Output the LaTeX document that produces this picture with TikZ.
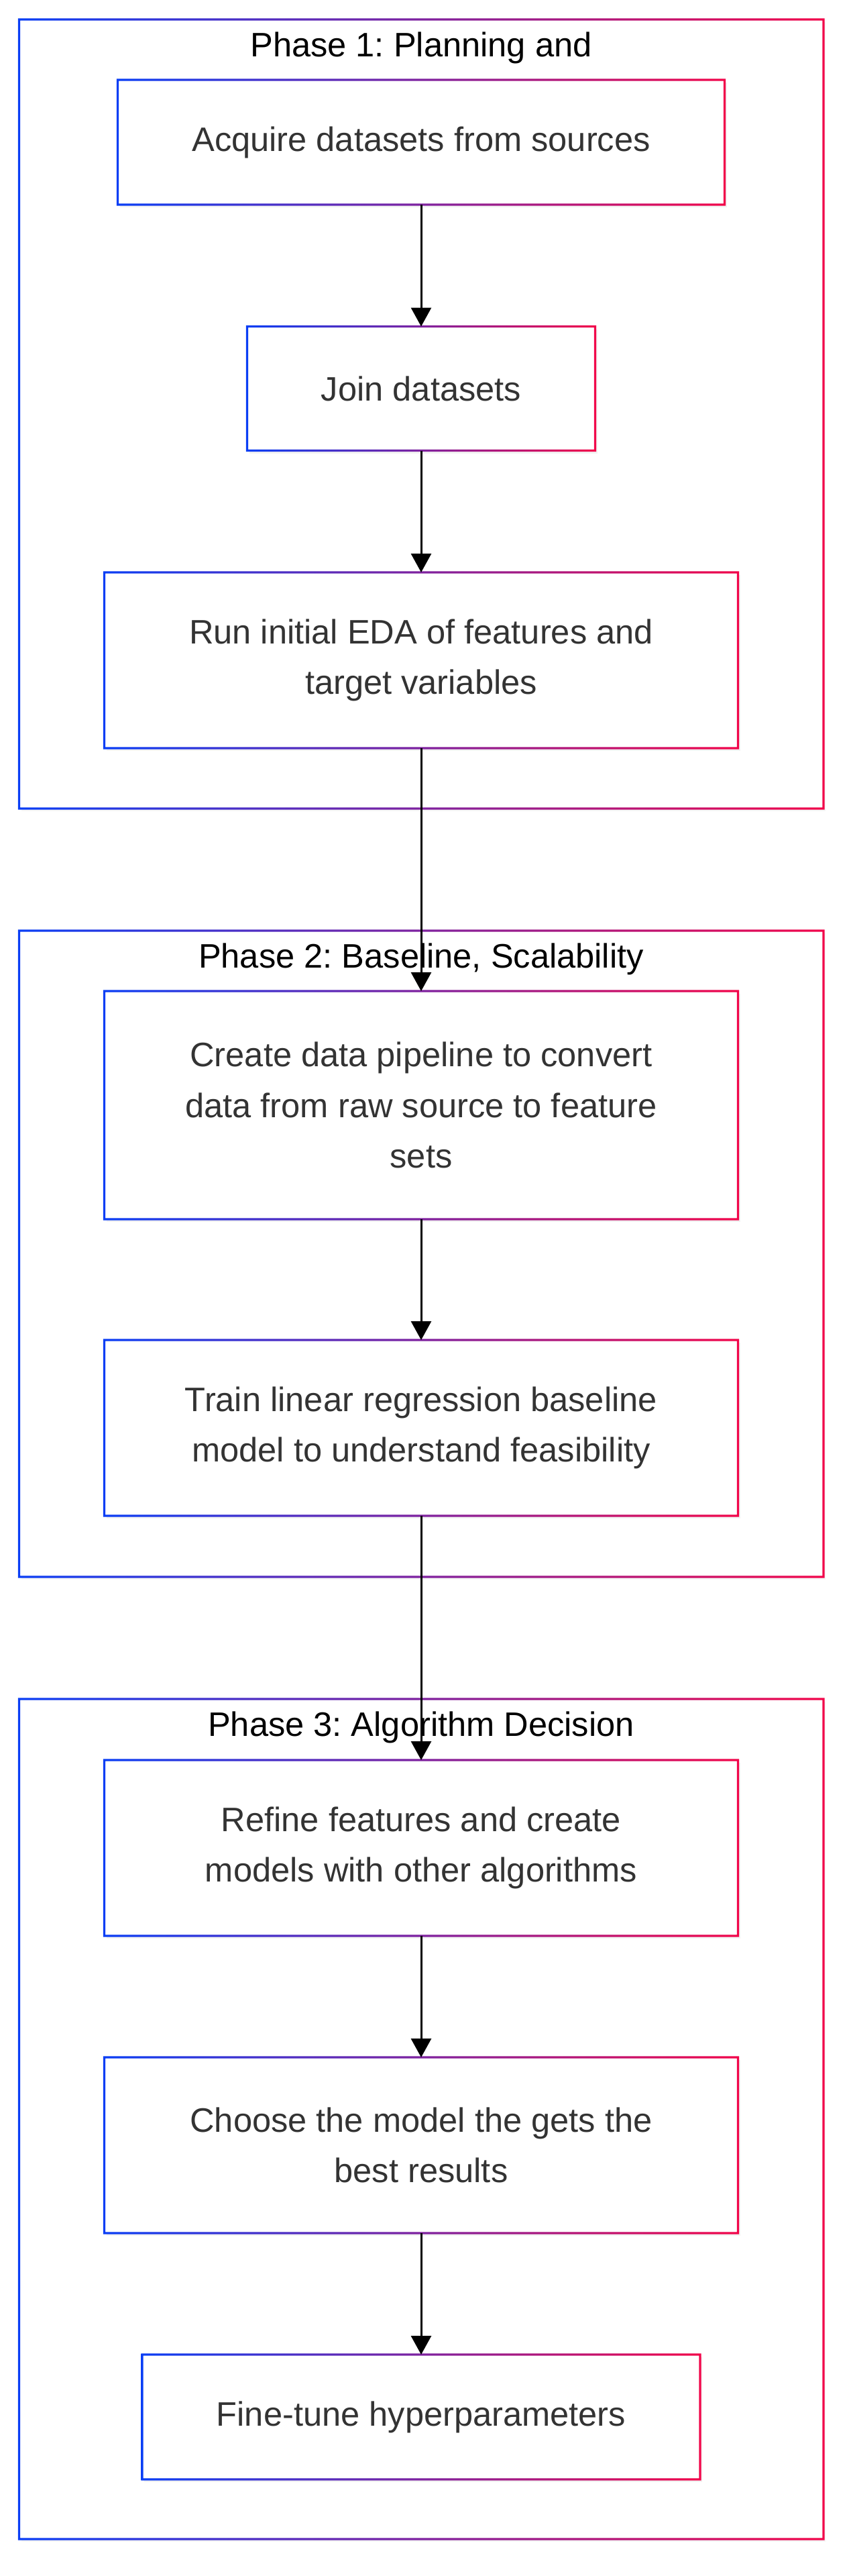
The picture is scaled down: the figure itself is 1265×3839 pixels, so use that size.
\documentclass[tikz,border=0pt]{standalone}
\usepackage{fontspec}
\setmainfont{Liberation Sans}
\usetikzlibrary{arrows.meta,shadows}
\definecolor{mblue}{RGB}{10,62,245}
\definecolor{mred}{RGB}{242,6,74}
\definecolor{mtext}{HTML}{333333}
\frenchspacing

\begin{document}
\begin{tikzpicture}[x=0.5pt, y=-0.5pt,
    fase/.style={rectangle, fill=white, outer sep=0pt, inner sep=0pt, minimum width=599.75pt,
      drop shadow={shadow xshift=1.5pt, shadow yshift=-2pt, opacity=0.08}},
    titulo/.style={anchor=base, text=black, font=\fontsize{25.3pt}{30pt}\selectfont},
    etapa/.style={rectangle, fill=white, outer sep=0pt, inner sep=0pt, align=center, text=mtext,
      font=\fontsize{25.3pt}{37.75pt}\selectfont, minimum width=472.5pt, minimum height=131pt,
      drop shadow={shadow xshift=1.5pt, shadow yshift=-2pt, opacity=0.1}},
    seta/.style={-{Triangle[width=15pt, length=14pt]}, line width=1.5pt, black}]
        \useasboundingbox (0,0) rectangle (1265,3839);

        % Fases
        \node[fase, minimum height=588pt] (F1) at (628.25,617) {};
        \node[fase, minimum height=481.5pt] (F2) at (628.25,1868.5) {};
        \node[fase, minimum height=626pt] (F3) at (628.25,3158) {};
        \node[titulo] (t1) at (628,84) {Phase 1: Planning and};
        \node[titulo] (t2) at (628,1442) {Phase 2: Baseline, Scalability};
        \node[titulo] (t3) at (628,2587) {Phase 3: Algorithm Decision};

        % Etapas da fase 1
        \node[etapa, minimum width=452.5pt, minimum height=93pt] (acq) at (628,212) {Acquire datasets from sources};
        \node[etapa, minimum width=259.5pt, minimum height=92.5pt] (join) at (628,579) {Join datasets};
        \node[etapa] (eda) at (628,984) {Run initial EDA of features and\\target variables};

        % Etapas da fase 2
        \node[etapa, minimum height=170pt] (pipe) at (628,1647) {Create data pipeline to convert\\data from raw source to feature\\sets};
        \node[etapa] (train) at (628,2128) {Train linear regression baseline\\model to understand feasibility};

        % Etapas da fase 3
        \node[etapa] (refine) at (628,2754) {Refine features and create\\models with other algorithms};
        \node[etapa] (choose) at (628,3197) {Choose the model the gets the\\best results};
        \node[etapa, minimum width=416pt, minimum height=93pt] (tune) at (628,3602) {Fine-tune hyperparameters};

        % Bordas em degrade
        \foreach \n in {F1,F2,F3,acq,join,eda,pipe,train,refine,choose,tune}
          \shade[left color=mblue, right color=mred, even odd rule]
            ([shift={(-0.8pt,0.8pt)}]\n.north west) rectangle ([shift={(0.8pt,-0.8pt)}]\n.south east)
            ([shift={(0.8pt,-0.8pt)}]\n.north west) rectangle ([shift={(-0.8pt,0.8pt)}]\n.south east);

        % Setas entre as etapas
        \draw[seta] (acq) -- (join);
        \draw[seta] (join) -- (eda);
        \draw[seta] (eda) -- (pipe);
        \draw[seta] (pipe) -- (train);
        \draw[seta] (train) -- (refine);
        \draw[seta] (refine) -- (choose);
        \draw[seta] (choose) -- (tune);
      \end{tikzpicture}
\end{document}
